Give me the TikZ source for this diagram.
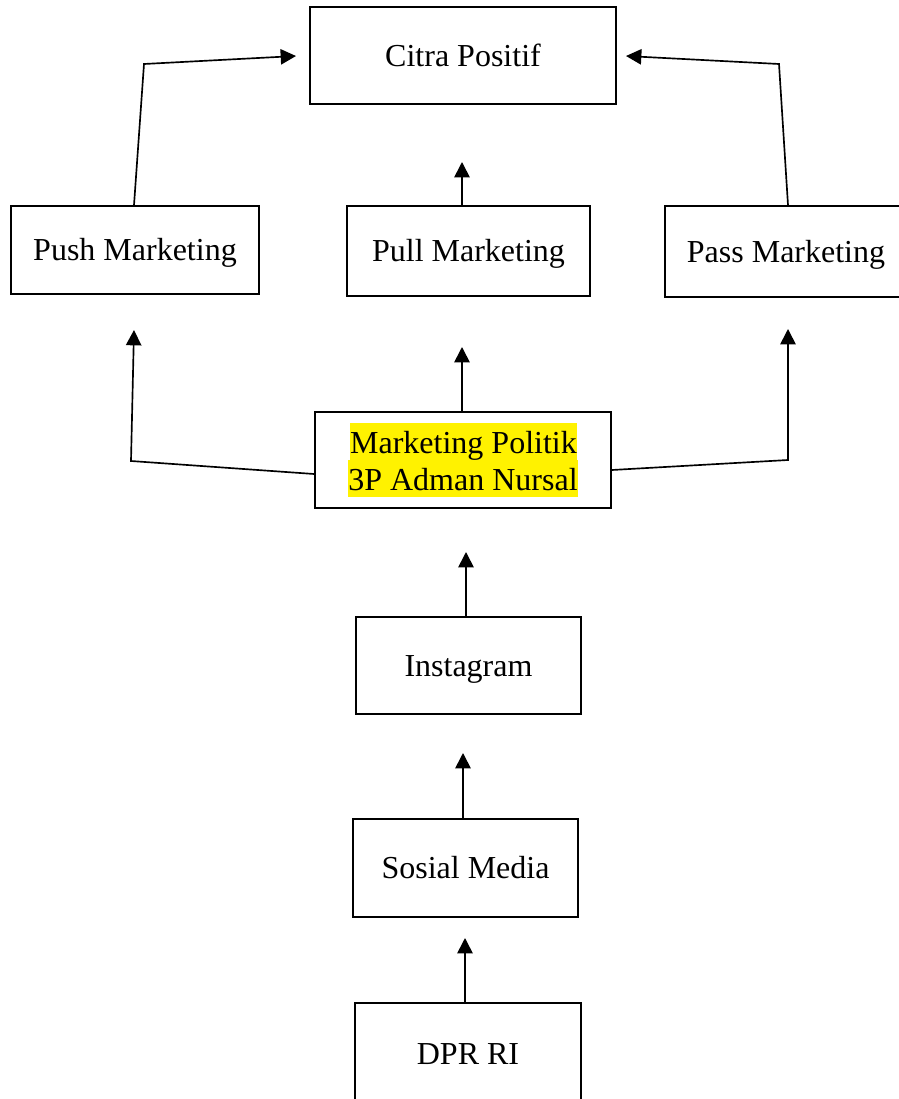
\documentclass[tikz,border=0pt]{standalone}
\usepackage{fontspec}
\setmainfont{Liberation Serif}
\usetikzlibrary{arrows.meta,calc}
\begin{document}
\begin{tikzpicture}[x=0.75pt,y=-0.75pt,
  every node/.style={font=\fontsize{24}{28}\selectfont},
  box/.style={draw, line width=1.3pt, rectangle, inner sep=0pt,
    text height=20.7pt, text depth=4.8pt},
  hl/.style={fill=yellow, inner xsep=0pt, inner ysep=0pt,
    text height=22.5pt, text depth=5.25pt, anchor=base},
  arr/.style={line width=1.25pt, -{Triangle[length=11.5pt,width=11.5pt]}}]
\clip (0,0) rectangle (899,1099);
\fill[white] (0,0) rectangle (899,1099);
% boxes
\node[box, minimum width={306*0.75pt}, minimum height={97*0.75pt}] (citra) at (463,55.5) {Citra Positif};
\node[box, minimum width={248*0.75pt}, minimum height={88*0.75pt}] (push) at (135,250) {Push Marketing};
\node[box, minimum width={243*0.75pt}, minimum height={90*0.75pt}] (pull) at (468.5,251) {Pull Marketing};
\node[box, minimum width={242*0.75pt}, minimum height={91*0.75pt}] (pass) at (786,251.5) {Pass Marketing};
\node[box, minimum width={296*0.75pt}, minimum height={96*0.75pt}] (mkt) at (463,460) {};
\node[hl] (mktA) at (463.5,453) {Marketing Politik};
\node[hl] (mktB) at (463,490) {3P Adman Nursal};
\node[box, minimum width={225*0.75pt}, minimum height={97*0.75pt}] (insta) at (468.5,665.5) {Instagram};
\node[box, minimum width={225*0.75pt}, minimum height={98*0.75pt}] (sosial) at (465.5,868) {Sosial Media};
\node[box, minimum width={226*0.75pt}, minimum height={102*0.75pt}] (dpr) at (468,1054) {DPR RI};
% free ends of connectors
\coordinate (c1) at (144,64);
\coordinate (t1) at (296,56);
\coordinate (t2) at (462,162);
\coordinate (c3) at (779,64);
\coordinate (t3) at (626,56);
\coordinate (c4) at (131,461);
\coordinate (t4) at (134,330);
\coordinate (t5) at (462,347);
\coordinate (c6) at (788,460);
\coordinate (t6) at (788,329);
\coordinate (t7) at (466,552);
\coordinate (t8) at (463,753);
\coordinate (t9) at (465,938);
% connectors
\draw[arr] ($(push.north)+(-1,0)$) -- (c1) -- (t1);
\draw[arr] ($(pull.north)+(-6.5,0)$) -- (t2);
\draw[arr] ($(pass.north)+(2,0)$) -- (c3) -- (t3);
\draw[arr] ($(mkt.west)+(0,14)$) -- (c4) -- (t4);
\draw[arr] ($(mkt.north)+(-1,0)$) -- (t5);
\draw[arr] ($(mkt.east)+(0,10)$) -- (c6) -- (t6);
\draw[arr] ($(insta.north)+(-2.5,0)$) -- (t7);
\draw[arr] ($(sosial.north)+(-2.5,0)$) -- (t8);
\draw[arr] ($(dpr.north)+(-3,0)$) -- (t9);
\end{tikzpicture}
\end{document}
